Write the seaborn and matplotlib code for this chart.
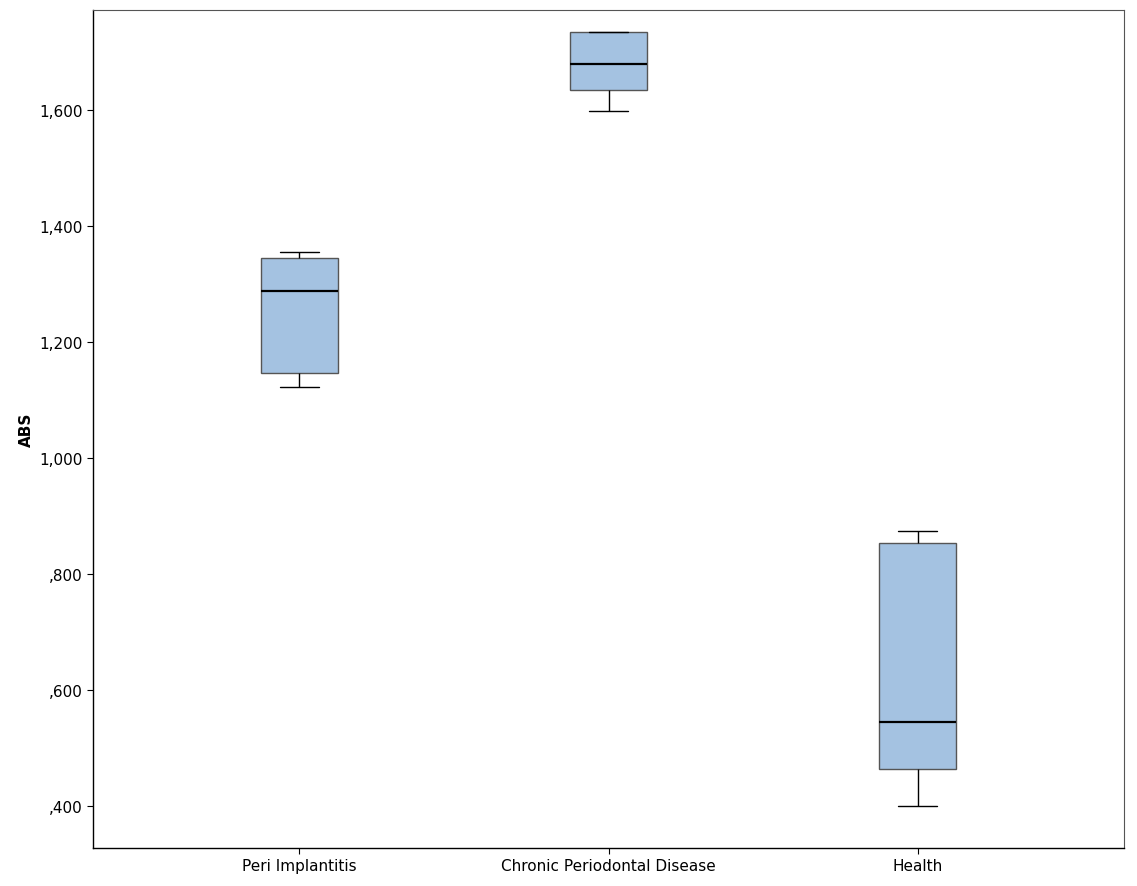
import pandas as pd
import matplotlib
matplotlib.use("Agg")
import matplotlib.pyplot as plt
from matplotlib.ticker import FuncFormatter
import seaborn as sns

# Five-number values (min, Q1, median, Q3, max)
groups = ["Peri Implantitis", "Chronic Periodontal Disease", "Health"]
peri_implantitis = [1.122, 1.147, 1.288, 1.345, 1.355]
chronic_periodontal = [1.598, 1.634, 1.679, 1.734, 1.734]
health = [0.400, 0.464, 0.545, 0.853, 0.874]
y_ticks = [0.4, 0.6, 0.8, 1.0, 1.2, 1.4, 1.6]


def build_frame():
    rows = []
    for name, vals in zip(groups, [peri_implantitis, chronic_periodontal, health]):
        for v in vals:
            rows.append({"Group": name, "ABS": v})
    return pd.DataFrame(rows)


def spss_label(v, pos):
    # SPSS style: comma decimal, no leading zero
    s = f"{v:.3f}".replace(".", ",")
    if s.startswith("0"):
        s = s[1:]
    return s


def main():
    df = build_frame()
    sns.set_style("white")
    plt.rcParams["font.family"] = ["DejaVu Sans"]

    fig = plt.figure(figsize=(11.37, 8.87), dpi=100)
    ax = fig.add_axes([93 / 1137, 1 - 849 / 887, (1124 - 93) / 1137, (849 - 11) / 887])

    sns.boxplot(data=df, x="Group", y="ABS", order=groups, width=0.25,
                color="#A4C2E1", saturation=1, whis=1.5, ax=ax,
                boxprops=dict(edgecolor="#555555", linewidth=1.0),
                whiskerprops=dict(color="black", linewidth=1.0),
                capprops=dict(color="black", linewidth=1.0),
                medianprops=dict(color="black", linewidth=1.6),
                flierprops=dict(marker="o"))

    ax.set_xlim(-0.667, 2.667)
    ax.set_ylim(0.3276, 1.7724)
    ax.set_yticks(y_ticks)
    ax.yaxis.set_major_formatter(FuncFormatter(spss_label))
    ax.set_xlabel("")
    ax.set_ylabel("ABS", fontsize=11, fontweight="bold", labelpad=4, color="black")
    ax.tick_params(axis="both", which="major", direction="out", length=4,
                   width=0.8, color="black", labelcolor="black", labelsize=11,
                   bottom=True, left=True)

    for side in ["left", "bottom"]:
        ax.spines[side].set_color("black")
        ax.spines[side].set_linewidth(1.0)
    for side in ["top", "right"]:
        ax.spines[side].set_color("#555555")
        ax.spines[side].set_linewidth(0.8)

    fig.savefig("out.png", dpi=100)


if __name__ == "__main__":
    main()
